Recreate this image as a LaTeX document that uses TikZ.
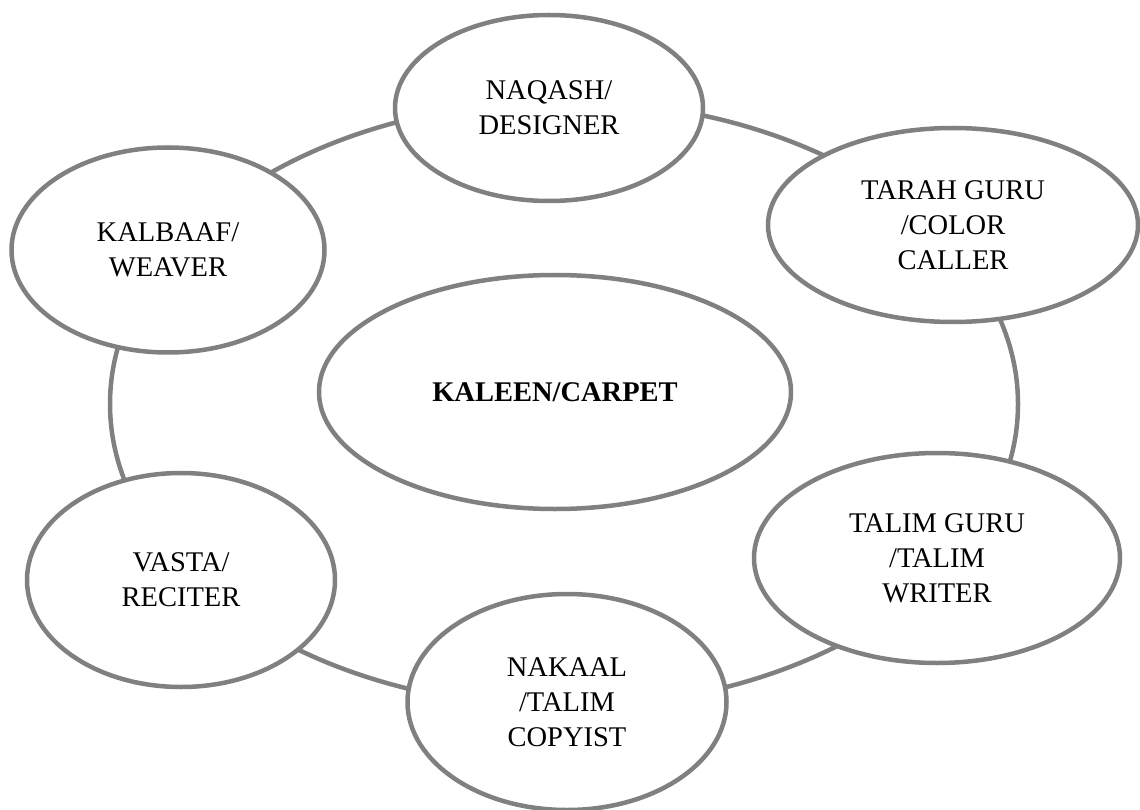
\documentclass[tikz,border=0pt]{standalone}
\usepackage{fontspec}
\setmainfont{Liberation Serif}
\usetikzlibrary{shapes.geometric}
\definecolor{rimgray}{RGB}{128,128,128}

\begin{document}
\begin{tikzpicture}[x = 1pt, y = -1pt,
        rim/.style = {draw = rimgray, line width = 4.5pt},
        role/.style = {ellipse, rim, fill = white, inner sep = 0pt, align = center,
                       font = \fontsize{28.5}{35}\selectfont}]
        \useasboundingbox (0, 0) rectangle (1140, 810);

        \coordinate (ring) at (564, 404);
        \draw [rim] (ring) ellipse [x radius = 454pt, y radius = 303pt];

        \node [role, minimum width = 472pt, minimum height = 234pt,
               font = \fontsize{28.5}{35}\selectfont\bfseries] (kaleen) at (555, 392) {KALEEN/CARPET};

        \node [role, minimum width = 308pt, minimum height = 186pt] (naqash) at (549, 108) {NAQASH/\\DESIGNER};
        \node [role, minimum width = 370pt, minimum height = 194pt] (tarah) at (953, 225) {TARAH GURU\\/COLOR\\CALLER};
        \node [role, minimum width = 366pt, minimum height = 210pt] (talim) at (937, 558) {TALIM GURU\\/TALIM\\WRITER};
        \node [role, minimum width = 319pt, minimum height = 216pt] (nakaal) at (567, 702) {NAKAAL\\/TALIM\\COPYIST};
        \node [role, minimum width = 308pt, minimum height = 214pt] (vasta) at (181, 580) {VASTA/\\RECITER};
        \node [role, minimum width = 313pt, minimum height = 205pt] (kalbaaf) at (168, 250) {KALBAAF/\\WEAVER};
    \end{tikzpicture}
\end{document}
